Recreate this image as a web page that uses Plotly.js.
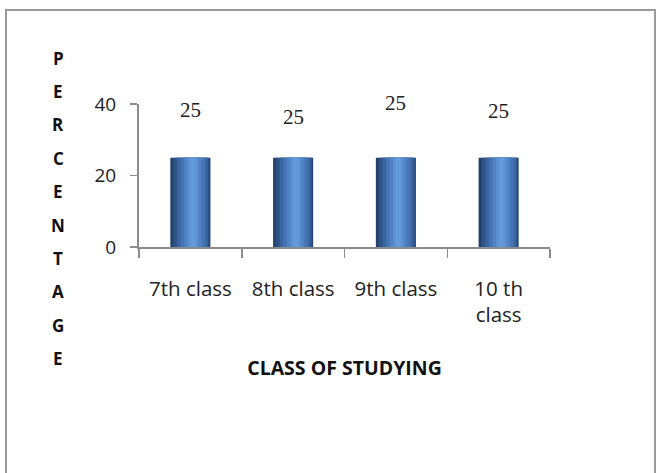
<!DOCTYPE html>
<html>
<head>
<meta charset="utf-8">
<script src="https://cdn.plot.ly/plotly-3.0.1.min.js"></script>
<style>html,body{margin:0;padding:0;background:#fff;}#chart{width:657px;height:473px;}</style>
</head>
<body>
<div id="chart"></div>
<script>
const categories = ["7th class", "8th class", "9th class", "10 th<br>class"];
const percentages = [25, 25, 25, 25];
const labelTexts = ["25", "25", "25", "25"];
const yTickValues = [0, 20, 40];
const yTitle = "PERCENTAGE";
const xTitle = "CLASS OF STUDYING";

// cylinder-like shading built from overlaid bars (dark left edge, highlight right of centre)
const shades = [
  {w: 0.39, off: -0.195, c: "#24426d"},
  {w: 0.35, off: -0.165, c: "#2f5388"},
  {w: 0.30, off: -0.13, c: "#3a64a0"},
  {w: 0.24, off: -0.095, c: "#4574b5"},
  {w: 0.17, off: -0.06, c: "#5183c4"},
  {w: 0.10, off: -0.025, c: "#5d91d2"},
  {w: 0.05, off: 0.0, c: "#6599d9"}
];
const traces = shades.map(s => ({
  type: "bar",
  x: categories,
  y: percentages,
  width: s.w,
  offset: s.off,
  marker: {color: s.c, line: {width: 0}},
  hoverinfo: "skip",
  showlegend: false
}));

const labelShifts = [48, 41, 55, 47];
const annotations = categories.map((c, i) => ({
  x: c, y: percentages[i], xref: "x", yref: "y",
  xanchor: "center", yanchor: "middle",
  text: labelTexts[i], showarrow: false, yshift: labelShifts[i],
  font: {family: "Liberation Serif, serif", size: 21, color: "#222"}
}));

const letters = yTitle.split("");
const letterTop = (247 - 58) / 143, letterStep = 33.4 / 143;
letters.forEach((ch, i) => {
  annotations.push({
    x: (58 - 139) / 411, y: letterTop - i * letterStep, xref: "paper", yref: "paper",
    xanchor: "center", yanchor: "middle",
    text: "<b>" + ch + "</b>", showarrow: false,
    font: {family: "Open Sans, sans-serif", size: 17, color: "#111"}
  });
});

const layout = {
  width: 657, height: 473,
  margin: {l: 139, r: 107, t: 104, b: 226},
  paper_bgcolor: "#fff", plot_bgcolor: "#fff",
  barmode: "overlay",
  font: {family: "Open Sans, sans-serif", color: "#222"},
  xaxis: {
    type: "category",
    tickson: "boundaries",
    ticks: "outside", ticklen: 9, tickcolor: "#8c8c8c", tickwidth: 1.5,
    showline: true, linecolor: "#8c8c8c", linewidth: 2,
    showgrid: false, zeroline: false,
    tickfont: {family: "Open Sans, sans-serif", size: 20.5, color: "#222"},
    ticklabelstandoff: 22,
    title: {text: "<b>" + xTitle + "</b>", standoff: 34,
      font: {family: "Open Sans, sans-serif", size: 19.5, color: "#111"}}
  },
  yaxis: {
    range: [0, 40],
    tickvals: yTickValues,
    ticks: "outside", ticklen: 7, tickcolor: "#8c8c8c", tickwidth: 1.5,
    showline: true, linecolor: "#8c8c8c", linewidth: 2,
    showgrid: false, zeroline: false,
    tickfont: {family: "Open Sans, sans-serif", size: 19, color: "#222"},
    ticklabelstandoff: 10
  },
  annotations: annotations,
  shapes: [{
    type: "rect", xref: "paper", yref: "paper",
    x0: (6 - 139) / 411, x1: (655 - 139) / 411,
    y0: (247 - 490) / 143, y1: (247 - 10) / 143,
    line: {color: "#9a9a9a", width: 2}, fillcolor: "rgba(0,0,0,0)", layer: "below"
  }]
};

Plotly.newPlot("chart", traces, layout, {displayModeBar: false, staticPlot: true});
</script>
</body>
</html>
